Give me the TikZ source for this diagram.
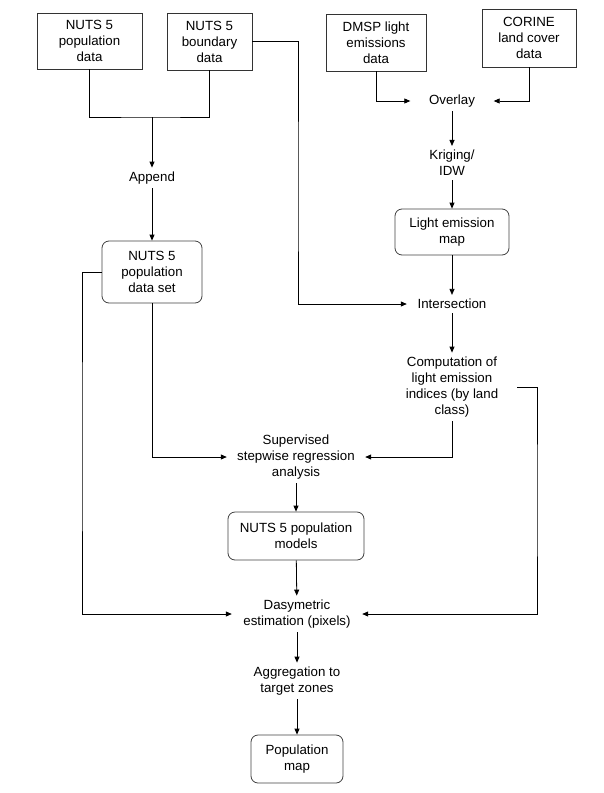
\documentclass[tikz,border=0pt]{standalone}
\usepackage{fontspec}
\setmainfont{Liberation Sans}
\usetikzlibrary{arrows.meta}

\begin{document}
\begin{tikzpicture}[
    x=1pt, y=-1pt,
    font=\fontsize{13.3}{16}\selectfont,
    src/.style={draw=black!80, line width=0.9pt, align=center, inner sep=2pt},
    proc/.style={draw=black!75, line width=0.8pt, rounded corners=7pt,
                 align=center, inner sep=2pt},
    txt/.style={align=center, inner xsep=0pt, inner ysep=4pt},
    arr/.style={-{Triangle[length=6pt,width=5pt]}, line width=0.8pt},
    link/.style={line width=0.8pt}
  ]
    \useasboundingbox (0,0) rectangle (604,793);
    % input data
    \node[src, minimum width=105pt, minimum height=56pt] (popdata) at (89.5,41) {NUTS 5\\population\\data};
    \node[src, minimum width=85pt, minimum height=57pt]  (bnddata) at (209.5,41.5) {NUTS 5\\boundary\\data};
    \node[src, minimum width=100pt, minimum height=57pt] (dmsp)    at (376,42.5) {DMSP light\\emissions\\data};
    \node[src, minimum width=94pt, minimum height=58pt]  (corine)  at (529,38) {CORINE\\land cover\\data};
    % processing steps
    \node[txt] (append)  at (152,178) {Append};
    \node[txt, minimum width=83pt] (overlay) at (452,101) {Overlay};
    \node[txt] (kriging) at (452,163) {Kriging/\\IDW};
    \node[proc, minimum width=114pt, minimum height=46pt] (lemap)  at (452,232) {Light emission\\map};
    \node[proc, minimum width=100pt, minimum height=62pt] (popset) at (152,272) {NUTS 5\\population\\data set};
    \node[txt, minimum width=90pt] (inter) at (452,304) {Intersection};
    \node[txt, minimum width=130pt] (comp) at (452,387) {Computation of\\light emission\\indices (by land\\class)};
    \node[txt, minimum width=138pt] (superv) at (296,457) {Supervised\\stepwise regression\\analysis};
    \node[proc, minimum width=136pt, minimum height=48pt] (models) at (296,536) {NUTS 5 population\\models};
    \node[txt, minimum width=130pt] (dasy) at (297,614) {Dasymetric\\estimation (pixels)};
    \node[txt] (aggr) at (297,681) {Aggregation to\\target zones};
    \node[proc, minimum width=92pt, minimum height=48pt] (popmap) at (297,759) {Population\\map};
    % turning points
    \coordinate (join)    at (152,117);
    \coordinate (bndturn) at (298,200);
    \coordinate (lturn)   at (82,450);
    \coordinate (rturn)   at (537,500);

    \draw[link] (popdata.south) |- (join) -| (bnddata.south);
    \draw[arr] (join) -- (append);
    \draw[arr] (append) -- (popset);
    \draw[arr] (bnddata.east) -| (bndturn) |- (inter.west);
    \draw[arr] (dmsp.south) |- (overlay.west);
    \draw[arr] (corine.south) |- (overlay.east);
    \draw[arr] (overlay) -- (kriging);
    \draw[arr] (kriging) -- (lemap);
    \draw[arr] (lemap) -- (inter);
    \draw[arr] (inter) -- (comp);
    \draw[arr] (comp.south) |- (superv.east);
    \draw[arr] (popset.south) |- (superv.west);
    \draw[arr] (superv) -- (models);
    \draw[arr] (models) -- (dasy);
    \draw[arr] (popset.west) -| (lturn) |- (dasy.west);
    \draw[arr] (comp.east) -| (rturn) |- (dasy.east);
    \draw[arr] (dasy) -- (aggr);
    \draw[arr] (aggr) -- (popmap);
\end{tikzpicture}
\end{document}
